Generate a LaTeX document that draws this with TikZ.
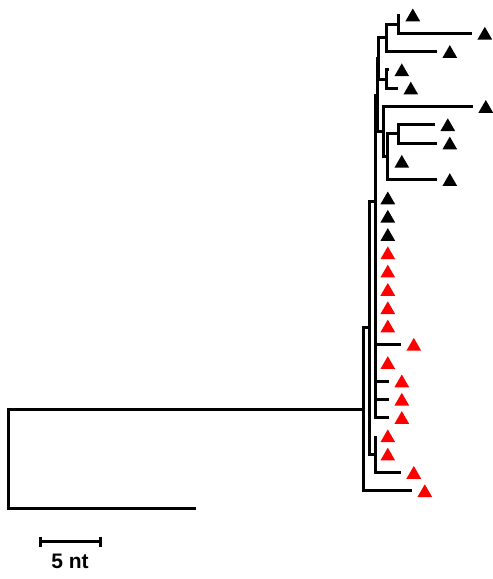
\documentclass[tikz,border=0pt]{standalone}
\usepackage{fontspec}
\newfontfamily\labfont{Liberation Sans}
\usetikzlibrary{shapes.geometric,calc}
\begin{document}
\begin{tikzpicture}[x=1pt,y=-1pt,
  br/.style={line width=3pt},
  tri/.style={regular polygon, regular polygon sides=3, minimum size=17pt, inner sep=0pt, draw=none},
  blk/.style={tri, fill=black},
  rd/.style={tri, fill=red},
  lab/.style={font=\labfont\bfseries\fontsize{21}{25}\selectfont, inner sep=0pt}]
\useasboundingbox (0,0) rectangle (493,579);
% internal nodes
\coordinate (R) at (8,458.6);
\coordinate (out) at (196,508);
\coordinate (Na) at (363,409.3);
\coordinate (Nb) at (369,327.8);
\coordinate (Nd) at (375,454.2);
\coordinate (V2a) at (375,201.45);
\coordinate (X) at (375,307.8);
\coordinate (V1b) at (377,95.1);
\coordinate (V1a) at (378,58.5);
\coordinate (A) at (386,37.9);
\coordinate (A1) at (398,24.15);
\coordinate (B) at (386,79.05);
\coordinate (D) at (383,131.7);
\coordinate (C) at (387,156.8);
\coordinate (C1) at (398,133.95);
% leaf tips
\coordinate (t1) at (400,15);
\coordinate (t2) at (472,33.3);
\coordinate (t3) at (437,51.6);
\coordinate (t4) at (389,69.9);
\coordinate (t5) at (398,88.2);
\coordinate (t6) at (473,106.5);
\coordinate (t7) at (435,124.8);
\coordinate (t8) at (437,143.1);
\coordinate (t9) at (389,161.4);
\coordinate (t10) at (437,179.7);
\coordinate (t11) at (375,198);
\coordinate (t12) at (375,216.3);
\coordinate (t13) at (375,234.6);
\coordinate (t14) at (375,252.9);
\coordinate (t15) at (375,271.2);
\coordinate (t16) at (375,289.5);
\coordinate (t17) at (375,307.8);
\coordinate (t18) at (375,326.1);
\coordinate (t19) at (401,344.4);
\coordinate (t20) at (375,362.7);
\coordinate (t21) at (389,381);
\coordinate (t22) at (389,399.3);
\coordinate (t23) at (389,417.6);
\coordinate (t24) at (375,435.9);
\coordinate (t25) at (375,454.2);
\coordinate (t26) at (401,472.5);
\coordinate (t27) at (412,490.8);
% branches
\draw[br] (R) |- (Na);
\draw[br] (R) |- (out);
\draw[br] (Na) |- (Nb);
\draw[br] (Na) |- (t27);
\draw[br] (Nb) |- (V2a);
\draw[br] (Nb) |- (Nd);
\draw[br] (Nd) |- (t24);
\draw[br] (Nd) |- (t25);
\draw[br] (Nd) |- (t26);
\draw[br] (V2a) |- (V1b);
\draw[br] (V2a) |- (X);
\foreach \k in {11,...,23} {\draw[br] (X) |- (t\k);}
\draw[br] (V1b) |- (V1a);
\draw[br] (V1b) |- (D);
\draw[br] (V1a) |- (A);
\draw[br] (V1a) |- (B);
\draw[br] (A) |- (A1);
\draw[br] (A) |- (t3);
\draw[br] (A1) |- (t1);
\draw[br] (A1) |- (t2);
\draw[br] (B) |- (t4);
\draw[br] (B) |- (t5);
\draw[br] (D) |- (t6);
\draw[br] (D) |- (C);
\draw[br] (C) |- (C1);
\draw[br] (C) |- (t9);
\draw[br] (C) |- (t10);
\draw[br] (C1) |- (t7);
\draw[br] (C1) |- (t8);
% leaf markers
\foreach \k in {1,...,13} {\node[blk] (l\k) at ([xshift=12.8pt,yshift=-2pt]t\k) {};}
\foreach \k in {14,...,27} {\node[rd] (l\k) at ([xshift=12.8pt,yshift=-2pt]t\k) {};}
% scale bar
\coordinate (s1) at (40,541.5);
\coordinate (s2) at (100.5,541.5);
\draw[br] (s1) -- (s2);
\draw[br] ($(s1)+(0,-5)$) -- ($(s1)+(0,5)$);
\draw[br] ($(s2)+(0,-5)$) -- ($(s2)+(0,5)$);
\node[lab] (sl) at (70,561) {5 nt};
\end{tikzpicture}
\end{document}
